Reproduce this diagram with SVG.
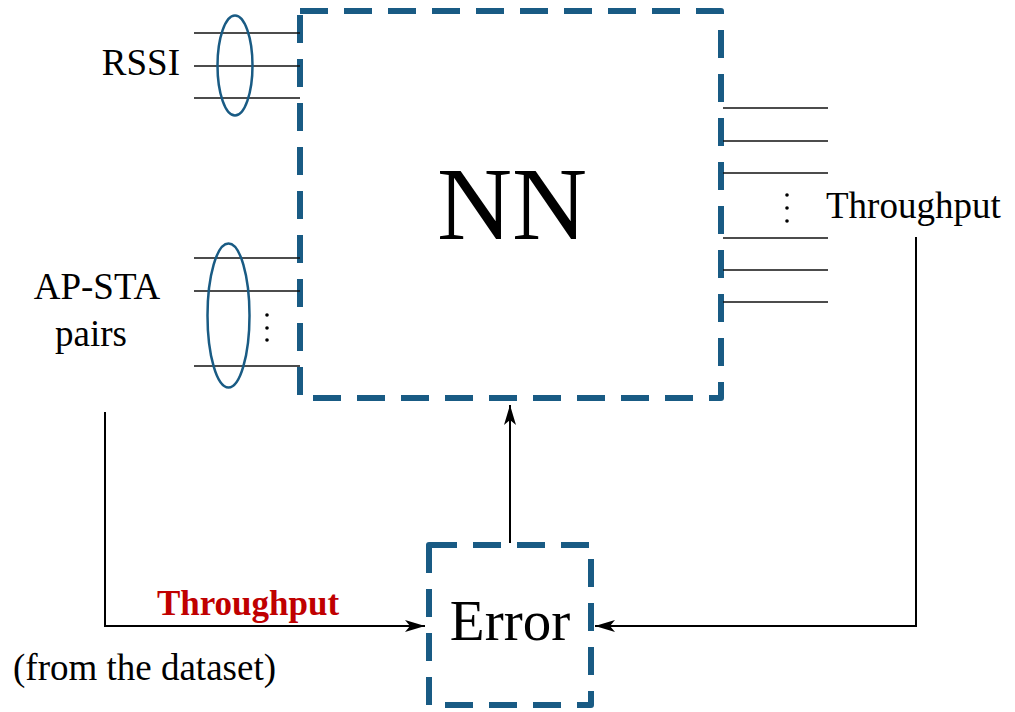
<svg xmlns="http://www.w3.org/2000/svg" width="1015" height="712" viewBox="0 0 1015 712">
<style>
.box{fill:none;stroke:#195b84;stroke-width:6;stroke-dasharray:28 16;stroke-linejoin:round;stroke-linecap:butt}
.ell{fill:none;stroke:#195b84;stroke-width:2.5}
.wire{stroke:#111;stroke-width:1.6}
.conn{fill:none;stroke:#000;stroke-width:2}
.t{font-family:"Liberation Serif","Times New Roman",serif;fill:#000}
.dot{fill:#000}
</style>
<defs>
<marker id="arr" viewBox="0 0 20 12" refX="20" refY="6" markerWidth="20" markerHeight="12" markerUnits="userSpaceOnUse" orient="auto">
<path d="M0,0 L20,6 L0,12 L5,6 Z" fill="#000"/>
</marker>
</defs>
<rect width="1015" height="712" fill="#fff"/>
<g id="nn">
<rect class="box" x="300" y="11" width="421" height="387"/>
<text class="t" x="512" y="239" font-size="104" text-anchor="middle">NN</text>
</g>
<g id="error">
<rect class="box" x="429" y="545" width="162" height="160"/>
<text class="t" x="510" y="640" font-size="57" text-anchor="middle">Error</text>
</g>
<g id="rssi">
<line class="wire" x1="194" y1="33" x2="300" y2="33"/>
<line class="wire" x1="194" y1="66" x2="300" y2="66"/>
<line class="wire" x1="194" y1="98" x2="300" y2="98"/>
<ellipse class="ell" cx="235" cy="65.5" rx="17.5" ry="50"/>
<text class="t" x="180" y="75" font-size="37" text-anchor="end">RSSI</text>
</g>
<g id="apsta">
<line class="wire" x1="194" y1="258" x2="300" y2="258"/>
<line class="wire" x1="194" y1="291" x2="300" y2="291"/>
<line class="wire" x1="194" y1="366" x2="300" y2="366"/>
<ellipse class="ell" cx="228.5" cy="315.5" rx="21" ry="72"/>
<circle class="dot" cx="267" cy="315" r="1.8"/>
<circle class="dot" cx="267" cy="328" r="1.8"/>
<circle class="dot" cx="267" cy="340" r="1.8"/>
<text class="t" x="97" y="299" font-size="37" text-anchor="middle">AP-STA</text>
<text class="t" x="91" y="346" font-size="37" text-anchor="middle">pairs</text>
</g>
<g id="outputs">
<line class="wire" x1="723" y1="108" x2="828" y2="108"/>
<line class="wire" x1="723" y1="141" x2="828" y2="141"/>
<line class="wire" x1="723" y1="173" x2="828" y2="173"/>
<line class="wire" x1="723" y1="238" x2="828" y2="238"/>
<line class="wire" x1="723" y1="270" x2="828" y2="270"/>
<line class="wire" x1="723" y1="302" x2="828" y2="302"/>
<circle class="dot" cx="787" cy="195" r="1.8"/>
<circle class="dot" cx="787" cy="208" r="1.8"/>
<circle class="dot" cx="787" cy="221" r="1.8"/>
<text class="t" x="826" y="218" font-size="37">Throughput</text>
</g>
<g id="connectors">
<polyline class="conn" points="105,412 105,626 425,626" marker-end="url(#arr)"/>
<polyline class="conn" points="916,237 916,626 595,626" marker-end="url(#arr)"/>
<line class="conn" x1="510" y1="543" x2="510" y2="405" marker-end="url(#arr)"/>
</g>
<g id="labels">
<text class="t" x="248" y="615" font-size="35" font-weight="bold" fill="#c00000" text-anchor="middle" style="fill:#c00000">Throughput</text>
<text class="t" x="13" y="680" font-size="37">(from the dataset)</text>
</g>
</svg>
